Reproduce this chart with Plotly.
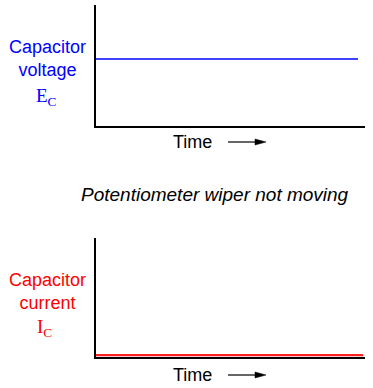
import plotly.graph_objects as go

W, H = 373, 388

# Data
time = [0, 9.74]
time_i = [0, 9.93]
voltage = [5.54, 5.54]
current = [0.15, 0.15]

x_label = "Time"
top_label = "Capacitor<br>voltage"
top_sym = "E<sub>C</sub>"
bot_label = "Capacitor<br>current"
bot_sym = "I<sub>C</sub>"
caption = "<i>Potentiometer wiper not moving</i>"

def px(x):
    return x / W

def py(y):
    return 1 - y / H

fig = go.Figure()
fig.add_trace(go.Scatter(x=time, y=voltage, mode="lines",
                         line=dict(color="#0000ff", width=1.5),
                         xaxis="x", yaxis="y", showlegend=False, hoverinfo="skip"))
fig.add_trace(go.Scatter(x=time_i, y=current, mode="lines",
                         line=dict(color="#ff2020", width=2.2),
                         xaxis="x2", yaxis="y2", showlegend=False, hoverinfo="skip"))

ax_common = dict(showline=True, linecolor="black", linewidth=1.6, showgrid=False,
                 zeroline=False, showticklabels=False, ticks="", range=[0, 10], fixedrange=True)

fig.update_layout(
    width=W, height=H,
    margin=dict(l=0, r=0, t=0, b=0),
    paper_bgcolor="white", plot_bgcolor="white",
    font=dict(family="Liberation Sans, Arial, sans-serif", size=18, color="black"),
    xaxis=dict(domain=[px(96), px(365)], anchor="y", **ax_common),
    yaxis=dict(domain=[py(126), py(5)], anchor="x", **ax_common),
    xaxis2=dict(domain=[px(96), px(365)], anchor="y2", **ax_common),
    yaxis2=dict(domain=[py(357), py(238)], anchor="x2", **ax_common),
)

ann = []
def add_text(x, y, text, **font):
    ann.append(dict(x=px(x), y=py(y), text=text, showarrow=False, xref="paper", yref="paper",
                    xanchor="center", yanchor="middle", align="center", font=font))

add_text(47, 58, top_label, color="#0000ff", size=18)
add_text(46, 97, top_sym, color="#0000ff", size=19, family="Liberation Serif, Times New Roman, serif")
add_text(47, 291, bot_label, color="#ff0000", size=18)
add_text(44, 328, bot_sym, color="#ff0000", size=19, family="Liberation Serif, Times New Roman, serif")
add_text(192, 142, x_label, size=18)
add_text(192, 375, x_label, size=18)
add_text(215, 194, caption, size=19)

shapes = []
for ty in (142, 375):
    shapes.append(dict(type="line", xref="paper", yref="paper",
                       x0=px(228), x1=px(258), y0=py(ty), y1=py(ty),
                       line=dict(color="black", width=1.2)))
    shapes.append(dict(type="path", xref="paper", yref="paper",
                       path=f"M {px(255)} {py(ty-3)} L {px(266)} {py(ty)} L {px(255)} {py(ty+3)} Z",
                       fillcolor="black", line=dict(color="black", width=0.5)))

fig.update_layout(annotations=ann, shapes=shapes)
fig.write_html("out.html")
